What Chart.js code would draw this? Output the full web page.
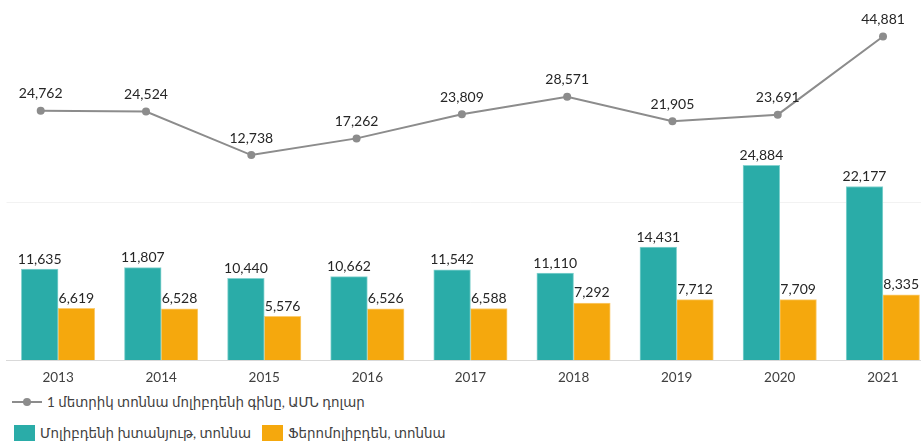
<!DOCTYPE html>
<html>
<head>
<meta charset="utf-8">
<script src="https://cdn.jsdelivr.net/npm/chart.js@4.4.1/dist/chart.umd.min.js"></script>
<style>
html,body{margin:0;padding:0;background:#fff;overflow:hidden;width:921px;height:444px;}
#wrap{position:absolute;left:0;top:0;width:940px;height:390px;}
#legend{position:absolute;left:0;top:390px;width:921px;height:54px;font-family:Lato,'DejaVu Sans',sans-serif;font-size:13.4px;color:#404040;}
.item{position:absolute;height:20px;display:flex;align-items:center;white-space:nowrap;}
.box{display:inline-block;width:21px;height:16px;margin-right:5px;}
svg{margin-right:5px;}
</style>
</head>
<body>
<div id="wrap"><canvas id="c"></canvas></div>
<div id="legend"></div>
<script>
const years = ['2013','2014','2015','2016','2017','2018','2019','2020','2021'];
const concentrate = [11635,11807,10440,10662,11542,11110,14431,24884,22177];
const ferromolybdenum = [6619,6528,5576,6526,6588,7292,7712,7709,8335];
const price = [24762,24524,12738,17262,23809,28571,21905,23691,44881];
const priceLabel = '1 մետրիկ տոննա մոլիբդենի գինը, ԱՄՆ դոլար';
const concentrateLabel = 'Մոլիբդենի խտանյութ, տոննա';
const ferroLabel = 'Ֆերոմոլիբդեն, տոննա';

const fmt = v => v.toLocaleString('en-US');

const valueLabels = {
  id: 'valueLabels',
  afterDatasetsDraw(chart) {
    const ctx = chart.ctx;
    ctx.save();
    ctx.font = '14px Lato, "DejaVu Sans", sans-serif';
    ctx.fillStyle = '#262626';
    ctx.textAlign = 'center';
    ctx.textBaseline = 'middle';
    chart.data.datasets.forEach((ds, i) => {
      const meta = chart.getDatasetMeta(i);
      meta.data.forEach((el, j) => {
        const off = ds.type === 'line' ? 17 : 10;
        const v = meta.controller.getParsed(j);
        ctx.fillText(fmt(v.y), el.x, el.y - off);
      });
    });
    ctx.restore();
  }
};

const chart = new Chart(document.getElementById('c'), {
  data: {
    labels: years,
    datasets: [
      { type: 'line', label: priceLabel, data: price.map((v, i) => ({ x: i, y: v })),
        xAxisID: 'x2', yAxisID: 'y2', order: 0,
        borderColor: '#8c8c8c', backgroundColor: '#8c8c8c', borderWidth: 2,
        pointRadius: 4, pointHoverRadius: 4, pointBackgroundColor: '#8c8c8c', pointBorderWidth: 0, tension: 0 },
      { type: 'bar', label: concentrateLabel, data: concentrate, xAxisID: 'x', yAxisID: 'y', order: 1,
        backgroundColor: '#2aaca8', borderColor: '#86d3d0', borderWidth: 1, barThickness: 36.7 },
      { type: 'bar', label: ferroLabel, data: ferromolybdenum, xAxisID: 'x', yAxisID: 'y', order: 1,
        backgroundColor: '#f5a80d', borderColor: '#fbcd73', borderWidth: 1, barThickness: 36.7 }
    ]
  },
  options: {
    responsive: true,
    maintainAspectRatio: false,
    animation: false,
    events: [],
    layout: { padding: { left: 6.5, right: 5.6, top: 8, bottom: 0 } },
    plugins: { legend: { display: false }, tooltip: { enabled: false } },
    scales: {
      x: {
        type: 'category',
        grid: { display: false },
        border: { display: true, color: '#d9d9d9', width: 1 },
        ticks: { color: '#404040', font: { family: 'Lato, "DejaVu Sans", sans-serif', size: 13.5 }, padding: 2, maxRotation: 0 },
        afterFit: a => { a.height = 30; }
      },
      x2: { type: 'linear', display: false, min: -0.325, max: 8.488 },
      y: { display: false, min: 0, max: 45000 },
      y2: {
        display: true, position: 'right', min: -42800, max: 52600,
        ticks: { display: false },
        grid: { drawTicks: false, color: '#f2f2f2', lineWidth: 1 },
        border: { display: false },
        afterBuildTicks: a => { a.ticks = [{ value: 0 }]; },
        afterFit: a => { a.width = 0; }
      }
    }
  },
  plugins: [valueLabels]
});

// HTML legend built from the chart datasets
const legend = document.getElementById('legend');
const ds = chart.data.datasets;
function addItem(left, top, symbolHtml, text) {
  const d = document.createElement('div');
  d.className = 'item';
  d.style.left = left + 'px';
  d.style.top = top + 'px';
  d.innerHTML = symbolHtml;
  const s = document.createElement('span');
  s.textContent = text;
  d.appendChild(s);
  legend.appendChild(d);
}
addItem(12, 2, '<svg width="30" height="10"><line x1="0" y1="5" x2="30" y2="5" stroke="' + ds[0].borderColor + '" stroke-width="2"/><circle cx="15" cy="5" r="4" fill="' + ds[0].borderColor + '"/></svg>', ds[0].label);
addItem(14, 33, '<span class="box" style="background:' + ds[1].backgroundColor + '"></span>', ds[1].label);
addItem(262, 33, '<span class="box" style="background:' + ds[2].backgroundColor + '"></span>', ds[2].label);
</script>
</body>
</html>
